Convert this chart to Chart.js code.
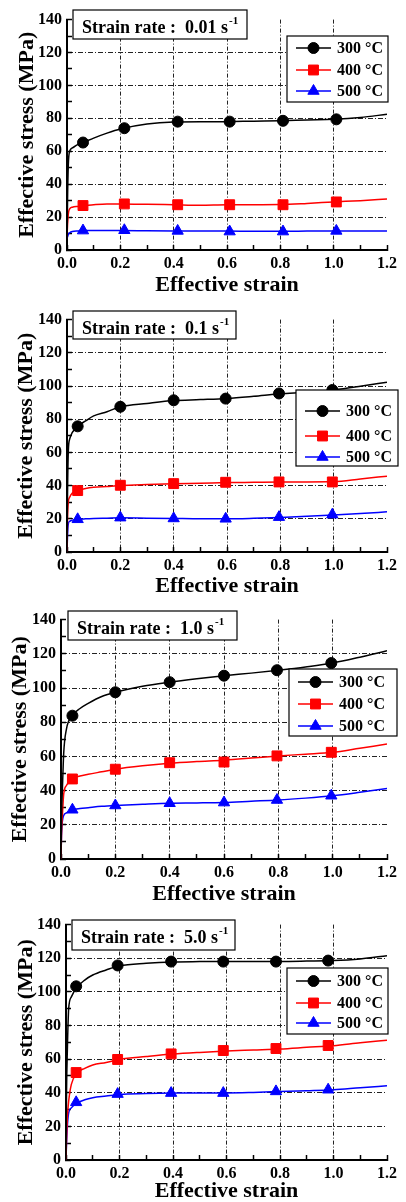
<!DOCTYPE html>
<html>
<head>
<meta charset="utf-8">
<script src="https://cdn.jsdelivr.net/npm/chart.js@4"></script>
<style>
  body { margin: 0; background: #fff; width: 406px; height: 1202px; position: relative; overflow: hidden; }
  canvas { position: absolute; left: 0; }
</style>
</head>
<body>
<canvas id="c1"></canvas>
<canvas id="c2"></canvas>
<canvas id="c3"></canvas>
<canvas id="c4"></canvas>
<script>
// ===== DATA =====
const strainGrid = [0, 0.002, 0.005, 0.01, 0.02, 0.04, 0.07, 0.1, 0.15, 0.2, 0.3, 0.4, 0.5, 0.6, 0.7, 0.8, 0.9, 1.0, 1.1, 1.2];
const tempLabels = ['300 °C', '400 °C', '500 °C'];
const rateLabels = ['0.01', '0.1', '1.0', '5.0'];
const xTicks = [0, 0.2, 0.4, 0.6, 0.8, 1.0, 1.2];
const yTicks = [0, 20, 40, 60, 80, 100, 120, 140];

// strain rate 0.01 s-1
const s001_300 = [0, 30, 52, 60, 62, 64, 66, 68, 71, 73.5, 76.5, 77.8, 78, 78, 78.3, 78.5, 79, 79.4, 80.5, 82.5];
const s001_400 = [8, 15, 22, 25, 26, 26.5, 27, 27.5, 28, 28, 27.8, 27.5, 27.2, 27.5, 27.5, 27.6, 28.3, 29.2, 30, 31];
const s001_500 = [7, 8, 9.5, 10.5, 11.3, 11.6, 11.8, 11.8, 11.8, 11.8, 11.7, 11.6, 11.5, 11.5, 11.4, 11.4, 11.5, 11.6, 11.6, 11.5];
const m001_strain = [0.06, 0.215, 0.415, 0.61, 0.81, 1.01];
const m001_300 = [65.3, 74, 78, 78, 78.5, 79.4];
const m001_400 = [27, 28, 27.5, 27.5, 27.5, 29.2];
const m001_500 = [11.8, 12, 11.6, 11.2, 11.2, 11.6];

// strain rate 0.1 s-1
const s01_300 = [0, 35, 61, 68, 72, 75.7, 79, 82, 84.5, 87.5, 89.5, 91.2, 91.8, 92.5, 93.8, 95.3, 96.2, 97.6, 99.8, 102.3];
const s01_400 = [0, 20, 30, 33, 35.5, 37, 38.3, 39, 39.5, 40, 40.6, 41.1, 41.4, 41.8, 42, 42.2, 42.2, 42.4, 44, 45.7];
const s01_500 = [0, 10, 17, 18.5, 19.2, 19.7, 20, 20.2, 20.4, 20.6, 20.4, 20.2, 20, 20, 20.3, 20.8, 21.5, 22.3, 23.2, 24.2];
const m01_strain = [0.04, 0.2, 0.4, 0.595, 0.795, 0.995];
const m01_300 = [75.7, 87.5, 91.4, 92.4, 95.5, 97.6];
const m01_400 = [37, 40.2, 41.2, 42, 42.2, 42.2];
const m01_500 = [19.7, 20.7, 20.2, 20, 21, 22.5];

// strain rate 1.0 s-1
const s10_300 = [0, 25, 40, 62, 76, 83.5, 88, 91, 95, 97.5, 101, 103.4, 105.4, 107.2, 108.7, 110.4, 112.3, 114.6, 118, 121.8];
const s10_400 = [0, 15, 25, 38, 43, 46.8, 48.5, 49.5, 51, 52.5, 54.5, 56, 57, 57.8, 59, 60.3, 61.3, 62.4, 64.8, 67.2];
const s10_500 = [0, 15, 22, 25.5, 27, 28.6, 29.5, 30, 30.8, 31.3, 32, 32.6, 32.8, 33.1, 33.8, 34.5, 35.6, 37, 39, 41.2];
const m10_strain = [0.042, 0.2, 0.4, 0.6, 0.795, 0.995];
const m10_300 = [83.8, 97.5, 103.4, 107.2, 110.4, 114.6];
const m10_400 = [46.8, 52.5, 56.3, 56.7, 60.3, 62.4];
const m10_500 = [28.8, 31.3, 32.6, 33, 34.5, 37];

// strain rate 5.0 s-1
const s50_300 = [0, 40, 65, 90, 97, 102.5, 107, 110, 113, 115.5, 117, 117.8, 118, 118.1, 118.1, 118.1, 118.3, 118.6, 119.6, 121.5];
const s50_400 = [0, 12, 25, 35, 45, 51.5, 54.5, 56.5, 58, 59.8, 61.5, 63, 64, 64.8, 65.4, 66, 67, 68, 69.7, 71.2];
const s50_500 = [0, 10, 20, 28, 31, 33.8, 35.8, 37, 38, 39, 39.5, 39.8, 39.9, 39.9, 40.2, 40.7, 41.2, 41.8, 43, 44.1];
const m50_strain = [0.038, 0.193, 0.393, 0.588, 0.785, 0.98];
const m50_300 = [103.3, 115.7, 118, 118, 118, 118.6];
const m50_400 = [52, 59.8, 63.1, 65.1, 66.3, 68.1];
const m50_500 = [34.3, 39.2, 39.8, 39.8, 40.8, 41.8];

// ===== STYLE =====
const colors = ['#000000', '#ff0000', '#0000ff'];
const markStyles = ['circle', 'rect', 'triangle'];
const markRadius = [5.5, 7, 6.5];
const FONT = '"Liberation Serif", "Times New Roman", serif';

// page-coordinate layout of each panel
const panels = [
  { id: 'c1', top: 0, height: 300, L: 67, R: 391, T: 12, B: 250, xTitleY: 285, yTitleX: 27,
    titleBox: [73, 10, 174, 29], legendBox: [287, 36, 101, 66], legendRows: [12, 34, 55],
    curves: [s001_300, s001_400, s001_500], markX: m001_strain, marks: [m001_300, m001_400, m001_500] },
  { id: 'c2', top: 300, height: 300, L: 67, R: 391, T: 313, B: 552, xTitleY: 586, yTitleX: 26,
    titleBox: [73, 311, 163, 28], legendBox: [296, 390, 102, 76], legendRows: [21, 46, 67],
    curves: [s01_300, s01_400, s01_500], markX: m01_strain, marks: [m01_300, m01_400, m01_500] },
  { id: 'c3', top: 600, height: 305, L: 61, R: 397, T: 613, B: 859, xTitleY: 894, yTitleX: 20,
    titleBox: [68, 611, 169, 29], legendBox: [289, 669, 108, 67], legendRows: [13, 35, 57],
    curves: [s10_300, s10_400, s10_500], markX: m10_strain, marks: [m10_300, m10_400, m10_500] },
  { id: 'c4', top: 905, height: 297, L: 66, R: 391, T: 922, B: 1160, xTitleY: 1191, yTitleX: 26.5,
    titleBox: [72, 920, 163, 30], legendBox: [287, 968, 101, 66], legendRows: [13, 35, 55],
    curves: [s50_300, s50_400, s50_500], markX: m50_strain, marks: [m50_300, m50_400, m50_500] }
];

// ===== TITLE BOX + LEGEND =====
const decorPlugin = {
  id: 'decor',
  afterDraw(chart, args, opts) {
    const ctx = chart.ctx;
    ctx.save();
    // strain rate box
    const [bx, by, bw, bh] = opts.titleBox;
    ctx.fillStyle = '#fff';
    ctx.fillRect(bx, by, bw, bh);
    ctx.strokeStyle = '#000';
    ctx.lineWidth = 1.2;
    ctx.strokeRect(bx, by, bw, bh);
    ctx.fillStyle = '#000';
    ctx.textBaseline = 'alphabetic';
    ctx.font = 'bold 18px ' + FONT;
    const main = 'Strain rate :  ' + opts.rate + ' s';
    ctx.fillText(main, bx + 9, by + 23);
    const w = ctx.measureText(main).width;
    ctx.font = 'bold 11px ' + FONT;
    ctx.fillText('-1', bx + 10 + w, by + 14);

    // legend
    const [lx, ly, lw, lh] = opts.legendBox;
    ctx.fillStyle = '#fff';
    ctx.fillRect(lx, ly, lw, lh);
    ctx.strokeStyle = '#000';
    ctx.lineWidth = 1.2;
    ctx.strokeRect(lx, ly, lw, lh);
    const markSets = chart.data.datasets.filter(d => d.isMark);
    markSets.forEach((d, i) => {
      const y = ly + opts.rows[i];
      ctx.strokeStyle = d.borderColor;
      ctx.lineWidth = 1.5;
      ctx.beginPath();
      ctx.moveTo(lx + 9, y);
      ctx.lineTo(lx + 44, y);
      ctx.stroke();
      ctx.fillStyle = d.backgroundColor;
      ctx.lineWidth = 1;
      Chart.helpers.drawPoint(ctx, { pointStyle: d.pointStyle, radius: d.pointRadius, rotation: 0, borderWidth: 1 }, lx + 26.5, y);
      ctx.fillStyle = '#000';
      ctx.font = 'bold 16px ' + FONT;
      ctx.textBaseline = 'middle';
      ctx.fillText(d.label, lx + 50, y + 1);
    });
    ctx.restore();
  }
};

function isMajor(v, unit) {
  return Math.round(v / unit) % 2 === 0;
}

function makeChart(p, idx) {
  const canvas = document.getElementById(p.id);
  canvas.width = 406;
  canvas.height = p.height;
  canvas.style.top = p.top + 'px';

  const padLeft = p.yTitleX - 11;
  const yW = p.L - padLeft;
  const padTop = p.T - p.top;
  const bottomRel = p.B - p.top;
  const xH = (p.xTitleY - p.top) + 11 - bottomRel;
  const padBottom = p.height - bottomRel - xH;
  const padRight = 406 - p.R;

  const datasets = [];
  p.marks.forEach((m, i) => {
    datasets.push({
      label: tempLabels[i],
      isMark: true,
      data: p.markX.map((x, j) => ({ x: x, y: m[j] })),
      showLine: false,
      pointStyle: markStyles[i],
      pointRadius: markRadius[i],
      backgroundColor: colors[i],
      borderColor: colors[i],
      pointBorderWidth: 1,
      order: 0
    });
  });
  p.curves.forEach((c, i) => {
    datasets.push({
      label: tempLabels[i] + ' curve',
      data: strainGrid.map((x, j) => ({ x: x, y: c[j] })),
      showLine: true,
      borderColor: colors[i],
      borderWidth: 1.5,
      pointRadius: 0,
      cubicInterpolationMode: 'monotone',
      order: 1
    });
  });

  const tickFont = { family: FONT, size: 16, weight: 'bold' };
  const titleFont = { family: FONT, size: 22, weight: 'bold', lineHeight: 1 };

  return new Chart(canvas, {
    type: 'scatter',
    data: { datasets },
    options: {
      responsive: false,
      animation: false,
      layout: { padding: { left: padLeft, top: padTop, right: padRight, bottom: padBottom } },
      plugins: {
        legend: { display: false },
        tooltip: { enabled: false },
        decor: {
          rate: rateLabels[idx],
          titleBox: [p.titleBox[0], p.titleBox[1] - p.top, p.titleBox[2], p.titleBox[3]],
          legendBox: [p.legendBox[0], p.legendBox[1] - p.top, p.legendBox[2], p.legendBox[3]],
          rows: p.legendRows
        }
      },
      scales: {
        x: {
          type: 'linear',
          min: xTicks[0],
          max: xTicks[xTicks.length - 1],
          ticks: {
            stepSize: 0.1, autoSkip: false, maxRotation: 0, padding: 9, color: '#000', font: tickFont,
            callback: v => isMajor(v, 0.1) ? v.toFixed(1) : ''
          },
          grid: {
            color: c => (c.tick && isMajor(c.tick.value, 0.1) && c.tick.value > 0.05 && c.tick.value < 1.15) ? '#222' : 'rgba(0,0,0,0)',
            lineWidth: 1,
            drawTicks: true,
            tickLength: -5,
            tickColor: '#000',
            tickWidth: 1.5
          },
          border: { display: true, color: '#000', width: 2, dash: [4, 2, 1, 2] },
          title: { display: true, text: 'Effective strain', color: '#000', font: titleFont, padding: 0 },
          afterFit: s => { s.height = xH; }
        },
        y: {
          type: 'linear',
          min: yTicks[0],
          max: yTicks[yTicks.length - 1],
          ticks: {
            stepSize: 10, autoSkip: false, padding: 10, color: '#000', font: tickFont,
            callback: v => isMajor(v, 10) ? String(v) : ''
          },
          grid: {
            color: c => (c.tick && isMajor(c.tick.value, 10) && c.tick.value > 5 && c.tick.value < 135) ? '#222' : 'rgba(0,0,0,0)',
            lineWidth: 1,
            drawTicks: true,
            tickLength: -5,
            tickColor: '#000',
            tickWidth: 1.5
          },
          border: { display: true, color: '#000', width: 2, dash: [5, 2, 1, 2] },
          title: { display: true, text: 'Effective stress (MPa)', color: '#000', font: titleFont, padding: 0 },
          afterFit: s => { s.width = yW; }
        }
      }
    },
    plugins: [decorPlugin]
  });
}

window.addEventListener('load', () => {
  panels.forEach((p, i) => makeChart(p, i));
});
</script>
</body>
</html>
